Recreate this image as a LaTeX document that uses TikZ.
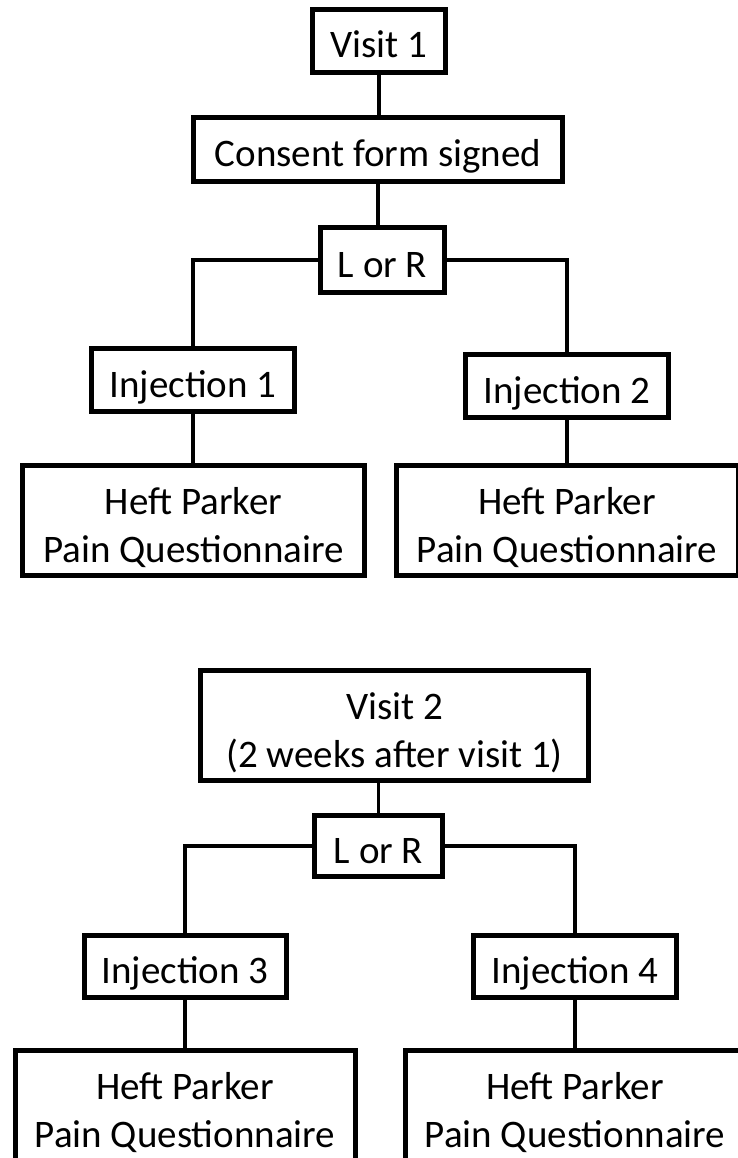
\documentclass[tikz,border=0pt]{standalone}
\usepackage{fontspec}
\setmainfont{Carlito}
\newcommand{\twolines}[2]{\renewcommand{\arraystretch}{1}\setlength{\tabcolsep}{0pt}\begin{tabular}[t]{c}#1\\#2\end{tabular}}
\begin{document}
\begin{tikzpicture}[x=1pt,y=-1pt,
  box/.style={draw=black,line width=5pt,fill=white,inner sep=0pt,
    font=\fontsize{39}{48}\selectfont,text height=34pt,text depth=0pt},
  tallbox/.style={box,text height=30pt,text depth=43pt},
  conn/.style={draw=black,line width=3.5pt}]
\useasboundingbox (0,0) rectangle (737,1158);
% visit 1 tree
\node[box,minimum width=133pt,minimum height=63pt] (v1) at (379,41) {Visit 1};
\node[box,minimum width=369pt,minimum height=64pt] (cons) at (378,149.5) {Consent form signed};
\node[box,minimum width=124pt,minimum height=65pt] (lr1) at (382.5,260) {L or R};
\node[box,minimum width=203pt,minimum height=63pt] (i1) at (193,380) {Injection 1};
\node[box,minimum width=203pt,minimum height=63pt] (i2) at (567,386) {Injection 2};
\node[tallbox,minimum width=342pt,minimum height=110pt] (h1) at (193.5,520.5) {\twolines{Heft Parker}{Pain Questionnaire}};
\node[tallbox,minimum width=342pt,minimum height=110pt] (h2) at (567,520.5) {\twolines{Heft Parker}{Pain Questionnaire}};
% visit 2 tree
\node[tallbox,minimum width=388pt,minimum height=110pt] (v2) at (394.5,725.5) {\twolines{Visit 2}{(2 weeks after visit 1)}};
\node[box,minimum width=128pt,minimum height=61pt] (lr2) at (378.5,846) {L or R};
\node[box,minimum width=202pt,minimum height=62pt] (i3) at (185,966.5) {Injection 3};
\node[box,minimum width=203pt,minimum height=62pt] (i4) at (575,966.5) {Injection 4};
\node[tallbox,minimum width=340pt,minimum height=110pt] (h3) at (185,1105.5) {\twolines{Heft Parker}{Pain Questionnaire}};
\node[tallbox,minimum width=340pt,minimum height=110pt] (h4) at (575,1105.5) {\twolines{Heft Parker}{Pain Questionnaire}};
% connectors
\draw[conn] (v1.south) -- (v1.south |- cons.north);
\draw[conn] (cons.south) -- (cons.south |- lr1.north);
\draw[conn] (lr1.west) -| (i1.north);
\draw[conn] (lr1.east) -| (i2.north);
\draw[conn] (i1.south) -- (i1.south |- h1.north);
\draw[conn] (i2.south) -- (i2.south |- h2.north);
\draw[conn] ([xshift=-16pt]v2.south) -- ([xshift=-16pt]v2.south |- lr2.north);
\draw[conn] (lr2.west) -| (i3.north);
\draw[conn] (lr2.east) -| (i4.north);
\draw[conn] (i3.south) -- (i3.south |- h3.north);
\draw[conn] (i4.south) -- (i4.south |- h4.north);
\end{tikzpicture}
\end{document}
